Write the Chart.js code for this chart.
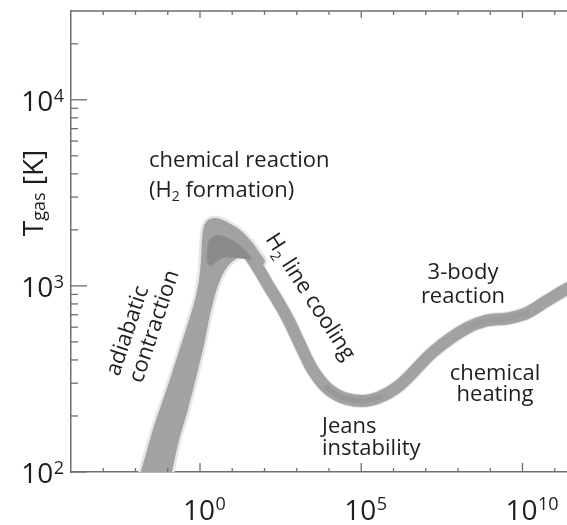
<!DOCTYPE html>
<html>
<head>
<meta charset="utf-8">
<script src="https://cdn.jsdelivr.net/npm/chart.js@4.4.1/dist/chart.umd.min.js"></script>
<style>
html,body{margin:0;padding:0;background:#fff;overflow:hidden}
canvas{display:block}
</style>
</head>
<body>
<canvas id="c" width="567" height="525"></canvas>
<script>
// ---------------- data ----------------
// tick values
const xMajorTicks = [1, 1e5, 1e10];
const xMajorExp = ['0', '5', '10'];
const xMinorTicks = [1e-3, 1e-2, 1e-1, 1e1, 1e2, 1e3, 1e4, 1e6, 1e7, 1e8, 1e9, 1e11];
const yMajorTicks = [100, 1000, 10000];
const yMajorExp = ['2', '3', '4'];
const yMinorTicks = [200, 300, 400, 500, 600, 700, 800, 900,
                     2000, 3000, 4000, 5000, 6000, 7000, 8000, 9000, 20000];

// outline of the broad band (adiabatic rise + peak), density n vs T_gas [K]
const riseN = [0.01195, 0.02273, 0.04024, 0.0765, 0.1455, 0.2576, 0.456, 0.700, 0.931, 1.074,
               1.153, 1.331, 1.771, 3.134, 6.87, 17.4, 38.1, 67.5, 103.7, 62.87,
               26.7, 13.07, 7.38, 4.48, 2.92, 2.04, 1.331, 0.751, 0.395, 0.2234,
               0.1355, 0.1175, 0.01195];
const riseT = [88.4, 131.3, 183.4, 252.9, 353.3, 481.4, 655.8, 840.1, 1076, 1378,
               1765, 2099, 2260, 2317, 2205, 1997, 1743, 1521, 1344, 1279,
               1448, 1395, 1279, 1103, 893.9, 697.4, 481.4, 320.0, 207.5, 148.6,
               100.0, 88.4, 88.4];

// darker crescent inside the peak
const crescentN = [1.648, 1.771, 2.193, 3.367, 8.52, 21.6, 40.9, 24.9, 14.0, 5.17, 2.92, 2.04, 1.648, 1.648];
const crescentT = [1503, 1700, 1809, 1877, 1786, 1598, 1395, 1395, 1412, 1412, 1327, 1279, 1344, 1503];

// narrow track: H2 cooling -> Jeans minimum -> 3-body / chemical heating
const trackN = [10.55, 28.67, 62.87, 128.5, 281.8, 575, 1018, 1679, 2767, 4898,
                8670, 17700, 36140, 105400, 381000, 1.592e6, 1.679e7, 1.901e8, 6.87e8, 4.09e9,
                1.380e10, 4.99e10, 2.08e11, 1.239e12];
const trackT = [1743, 1521, 1248, 1011, 809.3, 647.6, 524.8, 435.9, 366.6, 316.0,
                282.8, 259.3, 246.8, 240.8, 252.9, 293.6, 441.5, 594.0, 647.6, 672.1,
                715.2, 819.7, 950.6, 1130];

// darker cores of the track
const coreMinN = [8670, 17700, 36140, 105400, 381000];
const coreMinT = [282.8, 259.3, 246.8, 240.8, 252.9];
const corePlatN = [1.901e8, 6.87e8, 4.09e9, 1.380e10];
const corePlatT = [594.0, 647.6, 672.1, 715.2];

// annotation texts: [segments], anchor (n, T)
const annotations = [
  {n: 0.02624, T: 4354, align: 'left', rot: 0, base: 'alphabetic', segs: [['chemical reaction']]},
  {n: 0.02624, T: 3004, align: 'left', rot: 0, base: 'alphabetic', segs: [['(H'], ['2', 1], [' formation)']]},
  {n: 2576, T: 871.8, align: 'center', rot: 57, base: 'middle', segs: [['H'], ['2', 1], [' line cooling']]},
  {n: 0.002005, T: 332, align: 'left', rot: -71.5, base: 'middle', segs: [['adiabatic']]},
  {n: 0.01036, T: 304.5, align: 'left', rot: -71.5, base: 'middle', segs: [['contraction']]},
  {n: 1.429e8, T: 1089, align: 'center', rot: 0, base: 'alphabetic', segs: [['3-body']]},
  {n: 1.429e8, T: 809.3, align: 'center', rot: 0, base: 'alphabetic', segs: [['reaction']]},
  {n: 1.403e9, T: 312.2, align: 'center', rot: 0, base: 'alphabetic', segs: [['chemical']]},
  {n: 1.403e9, T: 240.7, align: 'center', rot: 0, base: 'alphabetic', segs: [['heating']]},
  {n: 6067, T: 162.1, align: 'left', rot: 0, base: 'alphabetic', segs: [['Jeans']]},
  {n: 6067, T: 123.4, align: 'left', rot: 0, base: 'alphabetic', segs: [['instability']]}
];
const yTitleSegs = [['T'], ['gas', 2], [' [K]']];

// ---------------- styling ----------------
const FONT = '"Open Sans", "DejaVu Sans", sans-serif';
const AXIS = '#6e6e6e';
const TEXT = '#1e1e1e';
const BAND = '#a2a2a2';
const HALO = '#e6e6e6';
const DARK = '#8b8b8b';

const pts = (xs, ys) => xs.map((x, i) => ({x: x, y: ys[i]}));

function drawRich(ctx, segs, size, align, base) {
  // segs: [text, kind] kind 1 = subscript (small, lowered), 2 = small subscript near baseline
  const parts = segs.map(s => {
    const kind = s[1] || 0;
    const fs = kind ? Math.round(size * 0.64) : size;
    const dy = kind === 1 ? size * 0.2 : kind === 2 ? size * 0.07 : 0;
    ctx.font = fs + 'px ' + FONT;
    return {t: s[0], fs: fs, dy: dy, w: ctx.measureText(s[0]).width};
  });
  const total = parts.reduce((a, p) => a + p.w, 0);
  let x = align === 'center' ? -total / 2 : align === 'right' ? -total : 0;
  ctx.textAlign = 'left';
  ctx.textBaseline = base;
  parts.forEach(p => {
    ctx.font = p.fs + 'px ' + FONT;
    if (base === 'middle' && p.fs !== size) {
      ctx.textBaseline = 'alphabetic';
      ctx.fillText(p.t, x, p.dy + size * 0.32);
      ctx.textBaseline = base;
    } else {
      ctx.fillText(p.t, x, p.dy);
    }
    x += p.w;
  });
}

const overlay = {
  id: 'overlay',
  afterDatasetsDraw(chart) {
    const ctx = chart.ctx, a = chart.chartArea;
    const xs = chart.scales.x, ys = chart.scales.y;
    ctx.save();
    ctx.strokeStyle = AXIS;
    ctx.lineWidth = 1.3;
    const seg = (x1, y1, x2, y2) => { ctx.beginPath(); ctx.moveTo(x1, y1); ctx.lineTo(x2, y2); ctx.stroke(); };
    // top frame line
    seg(a.left, a.top, a.right, a.top);
    // x ticks (inward, bottom and top)
    xMinorTicks.forEach(v => {
      const p = xs.getPixelForValue(v);
      seg(p, a.bottom, p, a.bottom - 4);
      seg(p, a.top, p, a.top + 4);
    });
    xMajorTicks.forEach(v => {
      const p = xs.getPixelForValue(v);
      seg(p, a.bottom, p, a.bottom - 9);
      seg(p, a.top, p, a.top + 7);
    });
    // y ticks (inward)
    yMinorTicks.forEach(v => {
      const p = ys.getPixelForValue(v);
      seg(a.left, p, a.left + 7, p);
    });
    yMajorTicks.forEach(v => {
      const p = ys.getPixelForValue(v);
      seg(a.left, p, a.left + 16, p);
    });

    // tick labels 10^k
    ctx.fillStyle = TEXT;
    ctx.textAlign = 'left';
    ctx.textBaseline = 'alphabetic';
    xMajorTicks.forEach((v, i) => {
      const p = xs.getPixelForValue(v);
      ctx.font = '28px ' + FONT;
      const w10 = ctx.measureText('10').width;
      const left = p - 1 - w10 / 2;
      ctx.fillText('10', left, a.bottom + 48);
      ctx.font = '18px ' + FONT;
      ctx.fillText(xMajorExp[i], left + w10 + 0.5, a.bottom + 38);
    });
    yMajorTicks.forEach((v, i) => {
      const p = ys.getPixelForValue(v);
      ctx.font = '18px ' + FONT;
      const we = ctx.measureText(yMajorExp[i]).width;
      const expLeft = 64 - we;
      ctx.fillText(yMajorExp[i], expLeft, p + 2);
      ctx.font = '28px ' + FONT;
      const w10 = ctx.measureText('10').width;
      ctx.fillText('10', expLeft - 0.5 - w10, p + 11);
    });

    // y axis title
    ctx.save();
    ctx.translate(43, 193);
    ctx.rotate(-Math.PI / 2);
    drawRich(ctx, yTitleSegs, 28, 'center', 'alphabetic');
    ctx.restore();

    // annotations
    annotations.forEach(an => {
      const px = xs.getPixelForValue(an.n), py = ys.getPixelForValue(an.T);
      ctx.save();
      ctx.translate(px, py);
      ctx.rotate(an.rot * Math.PI / 180);
      ctx.fillStyle = TEXT;
      drawRich(ctx, an.segs, 22, an.align, an.base);
      ctx.restore();
    });
    ctx.restore();
  }
};

const common = {pointRadius: 0, pointHoverRadius: 0, clip: 0, spanGaps: true};

new Chart(document.getElementById('c'), {
  type: 'line',
  data: {
    datasets: [
      Object.assign({data: pts(crescentN, crescentT), fill: 'shape', backgroundColor: DARK,
        borderWidth: 0, borderColor: 'rgba(0,0,0,0)', tension: 0.35, order: 1}, common),
      Object.assign({data: pts(coreMinN, coreMinT), fill: false, borderColor: 'rgba(115,115,115,0.2)',
        borderWidth: 5, tension: 0.4, cubicInterpolationMode: 'monotone', borderCapStyle: 'round', order: 2}, common),
      Object.assign({data: pts(corePlatN, corePlatT), fill: false, borderColor: 'rgba(115,115,115,0.12)',
        borderWidth: 5, tension: 0.4, cubicInterpolationMode: 'monotone', borderCapStyle: 'round', order: 2}, common),
      Object.assign({data: pts(trackN, trackT), fill: false, borderColor: BAND,
        borderWidth: 12, tension: 0.4, cubicInterpolationMode: 'monotone', borderCapStyle: 'round', order: 3}, common),
      Object.assign({data: pts(riseN, riseT), fill: 'shape', backgroundColor: BAND,
        borderWidth: 0, borderColor: 'rgba(0,0,0,0)', tension: 0.3, order: 4}, common),
      Object.assign({data: pts(trackN, trackT), fill: false, borderColor: 'rgba(200,200,200,0.45)',
        borderWidth: 14, tension: 0.4, cubicInterpolationMode: 'monotone', borderCapStyle: 'round', order: 5}, common),
      Object.assign({data: pts(riseN, riseT), fill: 'shape', backgroundColor: HALO,
        borderWidth: 5, borderColor: HALO, tension: 0.3, order: 6}, common)
    ]
  },
  options: {
    responsive: false,
    animation: false,
    devicePixelRatio: 1,
    events: [],
    layout: {padding: {left: 0, top: 11, right: 0, bottom: 0}},
    plugins: {legend: {display: false}, tooltip: {enabled: false}},
    scales: {
      x: {
        type: 'logarithmic', min: 1e-4, max: 2.4e11,
        grid: {display: false},
        border: {display: true, color: AXIS, width: 1.5},
        ticks: {display: false},
        afterFit: s => { s.height = 53; }
      },
      y: {
        type: 'logarithmic', min: 100, max: 30000,
        grid: {display: false},
        border: {display: true, color: AXIS, width: 1.5},
        ticks: {display: false},
        afterFit: s => { s.width = 71; }
      }
    }
  },
  plugins: [overlay]
});
</script>
</body>
</html>
